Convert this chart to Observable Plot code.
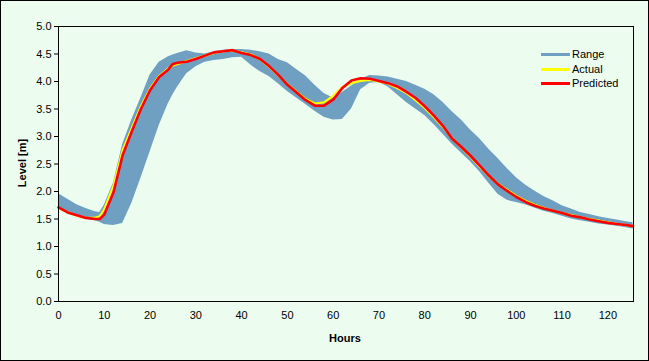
<!DOCTYPE html>
<html><head><meta charset="utf-8">
<script src="https://cdn.jsdelivr.net/npm/d3@7"></script>
<script src="https://cdn.jsdelivr.net/npm/@observablehq/plot@0.6"></script>
<style>
body{margin:0;background:#fff}
#wrap{position:relative;width:649px;height:361px;background:#ecfdef;overflow:hidden;font-family:"Liberation Sans",Arial,sans-serif;color:#000}
#border{position:absolute;left:0;top:0;width:649px;height:361px;box-sizing:border-box;border:1px solid #000;pointer-events:none}
.lab{position:absolute;font-size:11px;font-weight:bold;white-space:nowrap}
.leg{position:absolute;left:541px;font-size:11px;white-space:nowrap;height:14px;line-height:14px}
.leg span.sw{display:inline-block;width:29px;height:3px;vertical-align:middle;margin-right:2px;position:relative;top:-1px}
svg{position:absolute;left:0;top:0}
</style></head>
<body>
<div id="wrap">
  <div id="chart"></div>
  <div class="lab" id="xlab" style="left:345px;top:338px;transform:translate(-50%,-50%)">Hours</div>
  <div class="lab" id="ylab" style="left:22px;top:163px;transform:translate(-50%,-50%) rotate(-90deg)">Level [m]</div>
  <div id="legend"></div>
  <div id="border"></div>
</div>
<script>
const hours = [0,2,4,6,8,9,10,12,14,16,18,20,22,24,25,26,28,30,32,34,36,38,40,42,44,46,48,50,52,54,56,58,60,62,64,66,68,70,72,74,76,78,80,82,84,86,88,90,92,94,96,98,100,102,104,106,108,110,112,114,116,118,120,122,124,125.5];
const predicted = [1.71,1.62,1.57,1.52,1.50,1.50,1.58,1.98,2.66,3.09,3.50,3.84,4.08,4.22,4.32,4.34,4.36,4.41,4.47,4.53,4.55,4.57,4.52,4.48,4.41,4.28,4.12,3.94,3.80,3.66,3.56,3.56,3.67,3.88,4.02,4.06,4.05,4.01,3.97,3.91,3.81,3.70,3.55,3.38,3.19,2.96,2.81,2.65,2.47,2.29,2.13,2.01,1.90,1.81,1.74,1.69,1.65,1.61,1.56,1.53,1.49,1.46,1.43,1.41,1.39,1.37];
const actual = [1.70,1.62,1.56,1.52,1.52,1.55,1.68,2.10,2.75,3.15,3.55,3.87,4.10,4.24,4.29,4.32,4.37,4.42,4.47,4.52,4.55,4.56,4.53,4.49,4.40,4.27,4.11,3.95,3.81,3.68,3.60,3.62,3.74,3.90,3.97,4.01,4.03,4.00,3.96,3.88,3.79,3.66,3.52,3.35,3.17,2.97,2.80,2.63,2.45,2.28,2.14,2.03,1.92,1.83,1.76,1.70,1.65,1.61,1.57,1.53,1.50,1.47,1.44,1.41,1.39,1.37];
const rangeHigh = [1.96,1.86,1.76,1.69,1.63,1.62,1.75,2.15,2.85,3.30,3.70,4.12,4.35,4.45,4.48,4.51,4.56,4.52,4.50,4.54,4.57,4.58,4.58,4.57,4.54,4.50,4.40,4.34,4.22,4.10,3.93,3.78,3.70,3.80,3.92,4.04,4.11,4.10,4.08,4.04,4.00,3.93,3.86,3.76,3.62,3.45,3.30,3.12,2.96,2.77,2.60,2.42,2.25,2.12,2.01,1.91,1.83,1.74,1.68,1.62,1.58,1.54,1.51,1.48,1.45,1.43];
const rangeLow = [1.70,1.60,1.55,1.50,1.47,1.44,1.40,1.38,1.42,1.78,2.24,2.72,3.20,3.60,3.76,3.90,4.14,4.27,4.35,4.38,4.40,4.43,4.44,4.30,4.18,4.09,3.96,3.82,3.70,3.58,3.46,3.35,3.30,3.31,3.50,3.85,3.97,3.98,3.90,3.76,3.62,3.50,3.38,3.22,3.04,2.86,2.70,2.54,2.36,2.15,1.95,1.84,1.80,1.76,1.70,1.64,1.60,1.55,1.50,1.47,1.44,1.41,1.39,1.37,1.34,1.32];
const xTicks = [0,10,20,30,40,50,60,70,80,90,100,110,120];
const yTicks = [0,0.5,1,1.5,2,2.5,3,3.5,4,4.5,5];
const seriesNames = ["Range","Actual","Predicted"];
const seriesColors = ["#6f9fc1","#ffff00","#ff0000"];

const rows = hours.map((h,i)=>({h, p:predicted[i], a:actual[i], lo:rangeLow[i], hi:rangeHigh[i]}));

const chart = Plot.plot({
  width:649, height:361,
  marginLeft:58, marginRight:16, marginTop:26, marginBottom:60,
  style:{background:"transparent", fontFamily:"'Liberation Sans', Arial, sans-serif", fontSize:"11px", color:"#000", overflow:"visible"},
  x:{domain:[0,125.6], ticks:xTicks, tickSize:0, tickPadding:10, tickFormat:d=>String(d), label:null},
  y:{domain:[0,5], ticks:yTicks, tickSize:4, tickPadding:3, tickFormat:d3.format(".1f"), label:null},
  marks:[
    Plot.areaY(rows,{x:"h", y1:"lo", y2:"hi", fill:seriesColors[0], curve:"linear"}),
    Plot.lineY(rows,{x:"h", y:"a", stroke:seriesColors[1], strokeWidth:2.2}),
    Plot.lineY(rows,{x:"h", y:"p", stroke:seriesColors[2], strokeWidth:2.6}),
    Plot.frame({stroke:"#000", strokeWidth:1})
  ]
});
document.getElementById("chart").appendChild(chart);

const legTops = [47,62,76];
const leg = document.getElementById("legend");
seriesNames.forEach((n,i)=>{
  const d = document.createElement("div");
  d.className = "leg";
  d.style.top = legTops[i]+"px";
  d.innerHTML = `<span class="sw" style="background:${seriesColors[i]}"></span>${n}`;
  leg.appendChild(d);
});
</script>
</body></html>
